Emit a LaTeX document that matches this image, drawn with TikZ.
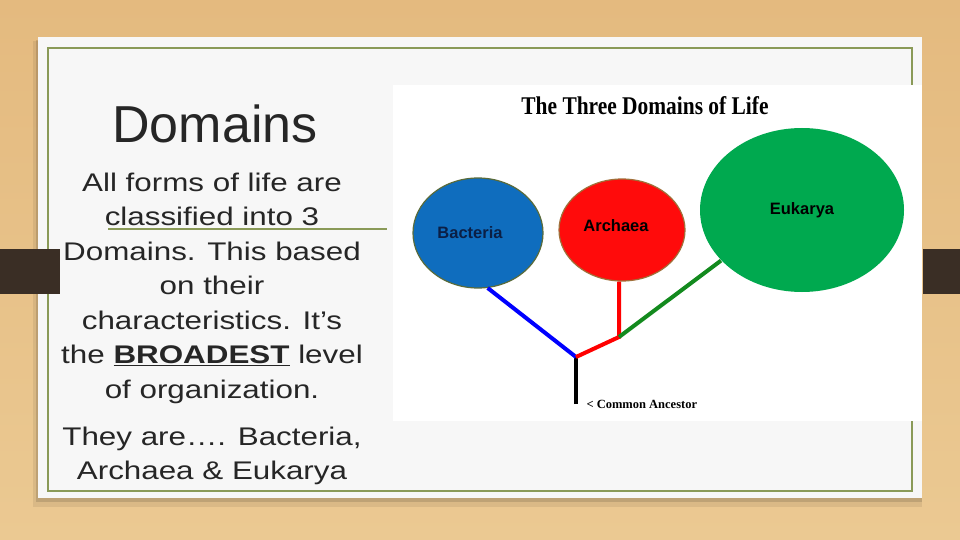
\documentclass[tikz,border=0pt]{standalone}
\usepackage{fontspec}
\setmainfont{Liberation Sans}
\newfontfamily\widefont[FakeStretch=1.23]{Liberation Sans}
\newfontfamily\lifefont[FakeStretch=0.84]{Liberation Serif}
\newfontfamily\smallserif{Liberation Serif}
\usetikzlibrary{shapes.geometric}
\definecolor{wood}{HTML}{EBC992}
\definecolor{woodtop}{HTML}{E4BA7F}
\definecolor{band}{HTML}{3A2E25}
\definecolor{card}{HTML}{F7F7F7}
\definecolor{olive}{HTML}{8A9A58}
\definecolor{textgray}{HTML}{262626}
\definecolor{bactblue}{HTML}{0F6DBE}
\definecolor{bactedge}{HTML}{5A6B3A}
\definecolor{archred}{HTML}{FF0B0B}
\definecolor{archedge}{HTML}{A0703A}
\definecolor{eukgreen}{HTML}{00A94F}
\definecolor{treegreen}{HTML}{138A1E}
\definecolor{navy}{HTML}{0B1F45}

\tikzset{
	lifeblob/.style={ellipse, inner sep=0pt, line width=1.2pt, font=\bfseries\fontsize{16.5}{18}\selectfont},
	branch/.style={line width=4pt},
}

\begin{document}
\begin{tikzpicture}[x=1pt, y=-1pt]
	\useasboundingbox (0,0) rectangle (960,540);
	\shade[top color=woodtop, bottom color=wood] (0,0) rectangle (960,540);
	\fill[black, opacity=0.07] (33,41) rectangle (922,507);
	\fill[black, opacity=0.12] (36,40) rectangle (922,502);
	\fill[card] (38,37) rectangle (922,498);
	\draw[olive, line width=2.5pt] (48,48) rectangle (912,491);

	\node[font=\fontsize{52}{60}\selectfont, text=textgray] (title) at (215,124) {Domains};
	\draw[olive, line width=1.5pt] (108,229) -- (387,229);
	\node[align=center, anchor=north, text=textgray, font=\widefont\fontsize{25.5}{34.5}\selectfont] (body) at (212,169)
		{All forms of life are\\ classified into 3\\ Domains. This based\\ on their\\
		 characteristics. It’s\\ the \underline{\textbf{BROADEST}} level\\ of organization.\\[12.5pt]
		 They are…. Bacteria,\\ Archaea \& Eukarya};

	\fill[white] (393,85) rectangle (922,421);
	\node[font=\lifefont\bfseries\fontsize{25.5}{28}\selectfont] (life) at (645,106) {The Three Domains of Life};
	\node[lifeblob, draw=bactedge, fill=bactblue, minimum width=130pt, minimum height=110pt,
		label={[xshift=-8pt, text=navy, font=\bfseries\fontsize{16.5}{18}\selectfont]center:Bacteria}] (bacteria) at (478,233) {};
	\node[lifeblob, draw=archedge, fill=archred, minimum width=126pt, minimum height=102pt,
		label={[xshift=-6pt, yshift=4pt, font=\bfseries\fontsize{16.5}{18}\selectfont]center:Archaea}] (archaea) at (622,230) {};
	\node[lifeblob, fill=eukgreen, minimum width=204pt, minimum height=164pt] (eukarya) at (802,210) {Eukarya};

	\coordinate (root) at (576,404);
	\coordinate (fork) at (576,357);
	\coordinate (split) at (619,337);
	\draw[branch, black] (root) -- (fork);
	\draw[branch, blue] (fork) -- (bacteria.-80);
	\draw[branch, red] (fork) -- (split) -- (split |- archaea.south);
	\draw[branch, treegreen] (split) -- (eukarya.212);
	\node[anchor=west, font=\smallserif\bfseries\fontsize{12.5}{14}\selectfont] (ancestor) at ([xshift=7pt]root) {< Common Ancestor};

	\fill[band] (0,249) rectangle (60,294);
	\fill[band] (923,249) rectangle (960,294);
\end{tikzpicture}
\end{document}
